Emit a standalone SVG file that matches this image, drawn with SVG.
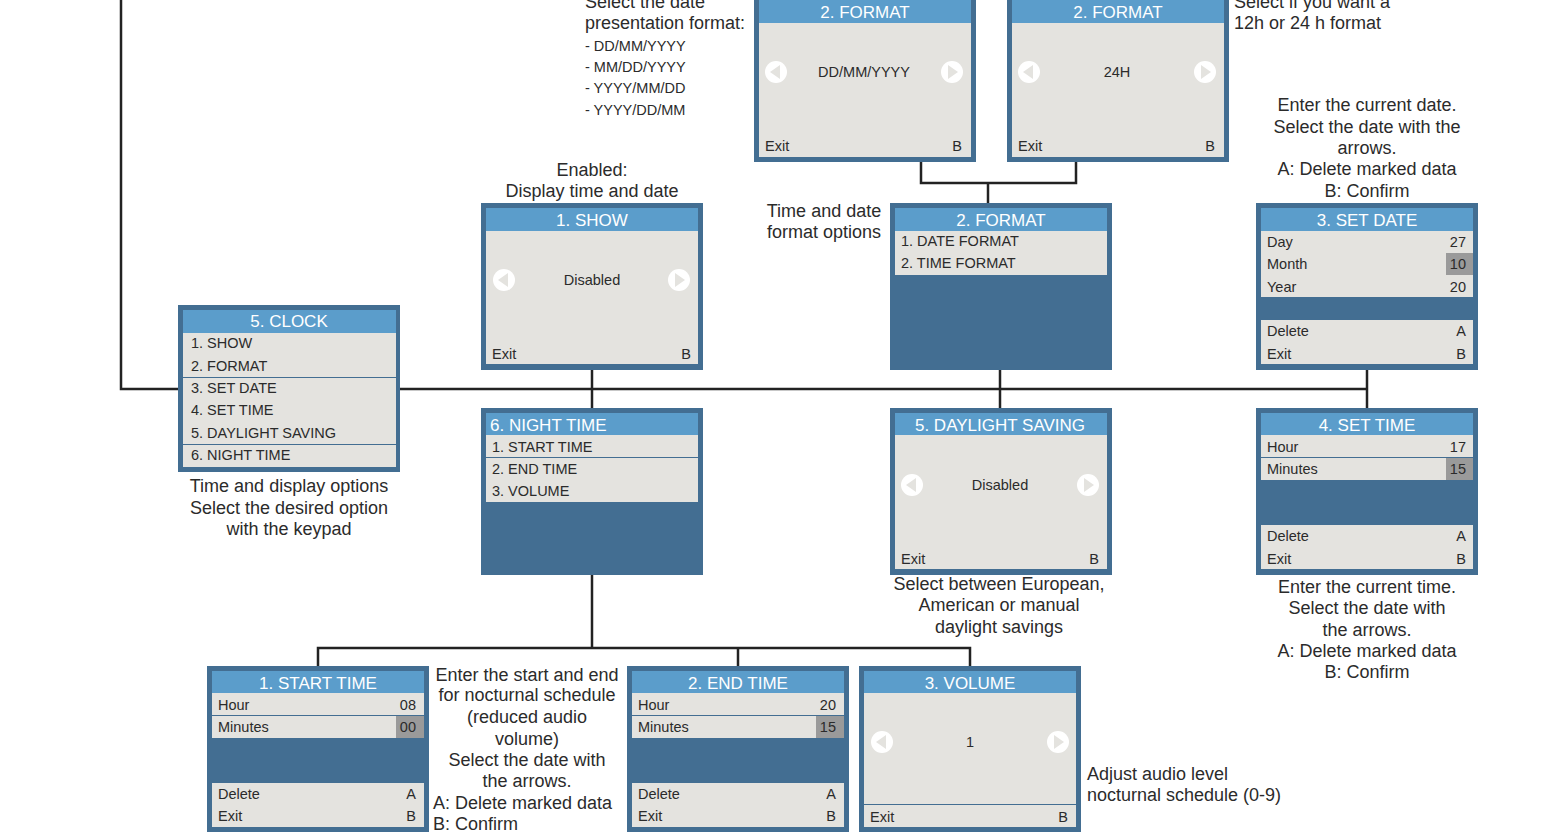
<svg xmlns="http://www.w3.org/2000/svg" width="1542" height="832" viewBox="0 0 1542 832">
<style>
text{font-family:"Liberation Sans",Arial,sans-serif;fill:#2b2b2b}
.d{font-size:18px}
.c{text-anchor:middle}
.r{text-anchor:end}
.s{font-size:14.5px}
.h{font-size:17px;fill:#ffffff;text-anchor:middle}
.hl{font-size:17px;fill:#ffffff}
.frame{fill:#436e92}
.head{fill:#5b9dcb}
.body{fill:#e4e3df}
.hi{fill:#9a9a9a}
.sep{stroke:#436e92;stroke-width:1.2}
.arw{fill:#ffffff}
.tri{fill:#e4e3df}
.con{stroke:#222;stroke-width:2.5;fill:none}
</style>
<defs>
<g id="la"><circle cx="0" cy="0" r="11" class="arw"/><polygon points="-6,0 4,-7 4,7" class="tri"/></g>
<g id="ra"><circle cx="0" cy="0" r="11" class="arw"/><polygon points="6,0 -4,-7 -4,7" class="tri"/></g>
</defs>
<rect width="1542" height="832" fill="#ffffff"/>

<g id="connectors">
<polyline class="con" points="121,0 121,389 1367,389"/>
<line class="con" x1="592" y1="369" x2="592" y2="409"/>
<line class="con" x1="1000" y1="369" x2="1000" y2="409"/>
<line class="con" x1="1367" y1="369" x2="1367" y2="409"/>
<polyline class="con" points="921,161 921,183 1076,183 1076,161"/>
<line class="con" x1="988" y1="183" x2="988" y2="204"/>
<line class="con" x1="592" y1="574" x2="592" y2="648"/>
<polyline class="con" points="318,667 318,648 970,648 970,667"/>
<line class="con" x1="738" y1="648" x2="738" y2="667"/>
</g>

<g id="clock">
<rect class="frame" x="178" y="305" width="222" height="167"/>
<rect class="head" x="183" y="310" width="213" height="23"/>
<rect class="body" x="183" y="333" width="213" height="134"/>
<line class="sep" x1="183" y1="377.5" x2="396" y2="377.5"/>
<line class="sep" x1="183" y1="444.5" x2="396" y2="444.5"/>
<text class="h" x="289" y="327">5. CLOCK</text>
<text class="s" x="191" y="348">1. SHOW</text>
<text class="s" x="191" y="371">2. FORMAT</text>
<text class="s" x="191" y="393">3. SET DATE</text>
<text class="s" x="191" y="415">4. SET TIME</text>
<text class="s" x="191" y="438">5. DAYLIGHT SAVING</text>
<text class="s" x="191" y="460">6. NIGHT TIME</text>
</g>

<g id="fmt-date">
<rect class="frame" x="754" y="-5" width="222" height="167"/>
<rect class="head" x="759" y="0" width="212" height="23"/>
<rect class="body" x="759" y="23" width="212" height="134"/>
<text class="h" x="865" y="18">2. FORMAT</text>
<use href="#la" x="776" y="72"/>
<use href="#ra" x="952" y="72"/>
<text class="s c" x="864" y="77">DD/MM/YYYY</text>
<text class="s" x="765" y="151">Exit</text>
<text class="s r" x="962" y="151">B</text>
</g>

<g id="fmt-time">
<rect class="frame" x="1007" y="-5" width="222" height="167"/>
<rect class="head" x="1012" y="0" width="212" height="23"/>
<rect class="body" x="1012" y="23" width="212" height="134"/>
<text class="h" x="1118" y="18">2. FORMAT</text>
<use href="#la" x="1029" y="72"/>
<use href="#ra" x="1205" y="72"/>
<text class="s c" x="1117" y="77">24H</text>
<text class="s" x="1018" y="151">Exit</text>
<text class="s r" x="1215" y="151">B</text>
</g>

<g id="show">
<rect class="frame" x="481" y="203" width="222" height="167"/>
<rect class="head" x="486" y="208" width="212" height="23"/>
<rect class="body" x="486" y="231" width="212" height="133"/>
<text class="h" x="592" y="226">1. SHOW</text>
<use href="#la" x="504" y="280"/>
<use href="#ra" x="679" y="280"/>
<text class="s c" x="592" y="285">Disabled</text>
<text class="s" x="492" y="359">Exit</text>
<text class="s r" x="691" y="359">B</text>
</g>

<g id="format">
<rect class="frame" x="890" y="203" width="222" height="167"/>
<rect class="head" x="895" y="208" width="212" height="23"/>
<rect class="body" x="895" y="231" width="212" height="44"/>
<text class="h" x="1001" y="226">2. FORMAT</text>
<text class="s" x="901" y="246">1. DATE FORMAT</text>
<text class="s" x="901" y="268">2. TIME FORMAT</text>
</g>

<g id="set-date">
<rect class="frame" x="1256" y="203" width="222" height="167"/>
<rect class="head" x="1261" y="208" width="212" height="23"/>
<rect class="body" x="1261" y="231" width="212" height="66"/>
<rect class="hi" x="1446" y="253" width="27" height="22"/>
<rect class="body" x="1261" y="320" width="212" height="44"/>
<text class="h" x="1367" y="226">3. SET DATE</text>
<text class="s" x="1267" y="247">Day</text>
<text class="s r" x="1466" y="247">27</text>
<text class="s" x="1267" y="269">Month</text>
<text class="s r" x="1466" y="269">10</text>
<text class="s" x="1267" y="292">Year</text>
<text class="s r" x="1466" y="292">20</text>
<text class="s" x="1267" y="336">Delete</text>
<text class="s r" x="1466" y="336">A</text>
<text class="s" x="1267" y="359">Exit</text>
<text class="s r" x="1466" y="359">B</text>
</g>

<g id="night-time">
<rect class="frame" x="481" y="408" width="222" height="167"/>
<rect class="head" x="486" y="413" width="212" height="22"/>
<rect class="body" x="486" y="435" width="212" height="67"/>
<line class="sep" x1="486" y1="457.5" x2="698" y2="457.5"/>
<text class="hl" x="490" y="431">6. NIGHT TIME</text>
<text class="s" x="492" y="452">1. START TIME</text>
<text class="s" x="492" y="474">2. END TIME</text>
<text class="s" x="492" y="496">3. VOLUME</text>
</g>

<g id="daylight">
<rect class="frame" x="890" y="408" width="222" height="167"/>
<rect class="head" x="895" y="413" width="212" height="22"/>
<rect class="body" x="895" y="435" width="212" height="134"/>
<text class="h" x="1000" y="431">5. DAYLIGHT SAVING</text>
<use href="#la" x="912" y="485"/>
<use href="#ra" x="1088" y="485"/>
<text class="s c" x="1000" y="490">Disabled</text>
<text class="s" x="901" y="564">Exit</text>
<text class="s r" x="1099" y="564">B</text>
</g>

<g id="set-time">
<rect class="frame" x="1256" y="408" width="222" height="167"/>
<rect class="head" x="1261" y="413" width="212" height="22"/>
<rect class="body" x="1261" y="435" width="212" height="45"/>
<line class="sep" x1="1261" y1="457.5" x2="1473" y2="457.5"/>
<rect class="hi" x="1446" y="458" width="27" height="22"/>
<rect class="body" x="1261" y="525" width="212" height="44"/>
<text class="h" x="1367" y="431">4. SET TIME</text>
<text class="s" x="1267" y="452">Hour</text>
<text class="s r" x="1466" y="452">17</text>
<text class="s" x="1267" y="474">Minutes</text>
<text class="s r" x="1466" y="474">15</text>
<text class="s" x="1267" y="541">Delete</text>
<text class="s r" x="1466" y="541">A</text>
<text class="s" x="1267" y="564">Exit</text>
<text class="s r" x="1466" y="564">B</text>
</g>

<g id="start-time">
<rect class="frame" x="207" y="666" width="222" height="170"/>
<rect class="head" x="212" y="671" width="212" height="22"/>
<rect class="body" x="212" y="693" width="212" height="45"/>
<line class="sep" x1="212" y1="715.5" x2="424" y2="715.5"/>
<rect class="hi" x="396" y="716" width="28" height="22"/>
<rect class="body" x="212" y="783" width="212" height="44"/>
<text class="h" x="318" y="689">1. START TIME</text>
<text class="s" x="218" y="710">Hour</text>
<text class="s r" x="416" y="710">08</text>
<text class="s" x="218" y="732">Minutes</text>
<text class="s r" x="416" y="732">00</text>
<text class="s" x="218" y="799">Delete</text>
<text class="s r" x="416" y="799">A</text>
<text class="s" x="218" y="821">Exit</text>
<text class="s r" x="416" y="821">B</text>
</g>

<g id="end-time">
<rect class="frame" x="627" y="666" width="222" height="170"/>
<rect class="head" x="632" y="671" width="212" height="22"/>
<rect class="body" x="632" y="693" width="212" height="45"/>
<line class="sep" x1="632" y1="715.5" x2="844" y2="715.5"/>
<rect class="hi" x="816" y="716" width="28" height="22"/>
<rect class="body" x="632" y="783" width="212" height="44"/>
<text class="h" x="738" y="689">2. END TIME</text>
<text class="s" x="638" y="710">Hour</text>
<text class="s r" x="836" y="710">20</text>
<text class="s" x="638" y="732">Minutes</text>
<text class="s r" x="836" y="732">15</text>
<text class="s" x="638" y="799">Delete</text>
<text class="s r" x="836" y="799">A</text>
<text class="s" x="638" y="821">Exit</text>
<text class="s r" x="836" y="821">B</text>
</g>

<g id="volume">
<rect class="frame" x="859" y="666" width="222" height="170"/>
<rect class="head" x="864" y="671" width="212" height="22"/>
<rect class="body" x="864" y="693" width="212" height="134"/>
<line class="sep" x1="864" y1="804.5" x2="1076" y2="804.5"/>
<text class="h" x="970" y="689">3. VOLUME</text>
<use href="#la" x="882" y="742"/>
<use href="#ra" x="1058" y="742"/>
<text class="s c" x="970" y="747">1</text>
<text class="s" x="870" y="822">Exit</text>
<text class="s r" x="1068" y="822">B</text>
</g>

<g id="notes">
<text class="d" x="585" y="8">Select the date</text>
<text class="d" x="585" y="29">presentation format:</text>
<text class="s" x="585" y="51">- DD/MM/YYYY</text>
<text class="s" x="585" y="72">- MM/DD/YYYY</text>
<text class="s" x="585" y="93">- YYYY/MM/DD</text>
<text class="s" x="585" y="115">- YYYY/DD/MM</text>
<text class="d" x="1234" y="8">Select if you want a</text>
<text class="d" x="1234" y="29">12h or 24 h format</text>
<text class="d c" x="1367" y="111">Enter the current date.</text>
<text class="d c" x="1367" y="133">Select the date with the</text>
<text class="d c" x="1367" y="154">arrows.</text>
<text class="d c" x="1367" y="175">A: Delete marked data</text>
<text class="d c" x="1367" y="197">B: Confirm</text>
<text class="d c" x="592" y="176">Enabled:</text>
<text class="d c" x="592" y="197">Display time and date</text>
<text class="d c" x="824" y="217">Time and date</text>
<text class="d c" x="824" y="238">format options</text>
<text class="d c" x="289" y="492">Time and display options</text>
<text class="d c" x="289" y="514">Select the desired option</text>
<text class="d c" x="289" y="535">with the keypad</text>
<text class="d c" x="999" y="590">Select between European,</text>
<text class="d c" x="999" y="611">American or manual</text>
<text class="d c" x="999" y="633">daylight savings</text>
<text class="d c" x="1367" y="593">Enter the current time.</text>
<text class="d c" x="1367" y="614">Select the date with</text>
<text class="d c" x="1367" y="636">the arrows.</text>
<text class="d c" x="1367" y="657">A: Delete marked data</text>
<text class="d c" x="1367" y="678">B: Confirm</text>
<text class="d c" x="527" y="681">Enter the start and end</text>
<text class="d c" x="527" y="701">for nocturnal schedule</text>
<text class="d c" x="527" y="723">(reduced audio</text>
<text class="d c" x="527" y="745">volume)</text>
<text class="d c" x="527" y="766">Select the date with</text>
<text class="d c" x="527" y="787">the arrows.</text>
<text class="d" x="433" y="809">A: Delete marked data</text>
<text class="d" x="433" y="830">B: Confirm</text>
<text class="d" x="1087" y="780">Adjust audio level</text>
<text class="d" x="1087" y="801">nocturnal schedule (0-9)</text>
</g>
</svg>
